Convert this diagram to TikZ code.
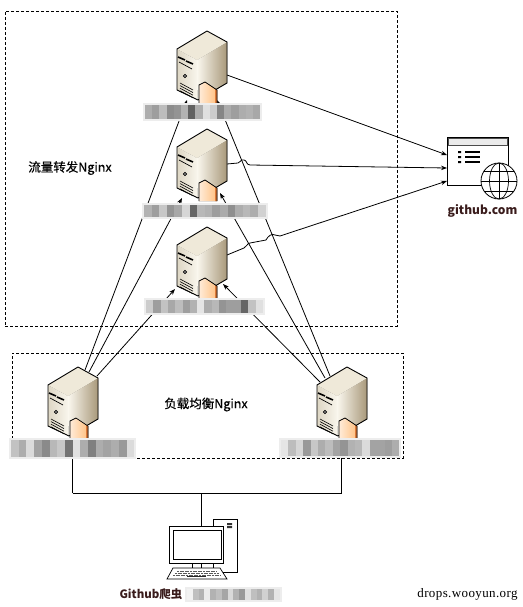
\documentclass[tikz,border=0pt]{standalone}
\usepackage{fontspec}
\setmainfont{Noto Sans CJK SC}
\newfontfamily\markfont[LetterSpace=3]{Liberation Serif}
\newfontfamily\capfont[FakeBold=0.4]{Noto Sans CJK SC}
\usetikzlibrary{arrows.meta}

\definecolor{doorred}{HTML}{DE7A38}
\definecolor{darktext}{HTML}{3A1C1C}
\definecolor{creamlight}{HTML}{FAF7EE}
\definecolor{creamtop}{HTML}{EFE9D9}
\definecolor{creamdark}{HTML}{A8987A}
\definecolor{creamlow}{HTML}{DDD6C4}

\tikzset{
	link/.style={-{Stealth[length=6pt,width=4.5pt]},line width=0.8pt},
	wire/.style={-,line width=0.9pt},
	zone/.style={draw=black,densely dashed,line width=0.8pt},
	caption/.style={font=\capfont\fontsize{12.5}{14}\selectfont,inner sep=0pt},
	pics/serverbox/.style={code={
		\fill[left color=creamlow,right color=creamlight] (-30,18) -- (-10,29) -- (-9,69) -- (-30,59) -- cycle;
		\fill[left color=creamlight,right color=creamdark] (-10,29) -- (20,11) -- (20,52) -- (-9,69) -- cycle;
		\fill[creamtop] (0,0) -- (20,11) -- (-10,29) -- (-30,18) -- cycle;
		\draw[line width=0.9pt,line join=round] (0,0) -- (20,11) -- (20,52) -- (-9,69) -- (-30,59) -- (-30,18) -- cycle;
		\draw[line width=1.6pt] (-29,26) -- (-22,29) (-21,30) -- (-14,33);
		\draw[line width=0.7pt] (-28,31) -- (-15,38);
		\draw[line width=0.6pt,fill=black!50] (-22,45) circle (1.8);
		\foreach \k in {0,...,3}
			\draw[line width=0.6pt] (-27,52+2.6*\k) -- (-14,59+2.6*\k);
		\fill[left color=orange!15!white,right color=orange!50!white] (-8,54) -- (-2,51) -- (10,59) -- (10,72) -- (-8,72) -- cycle;
		\fill[doorred] (8,58) -- (10,59) -- (10,72) -- (8,72) -- cycle;
		\draw[line width=0.7pt] (-8,72) -- (-8,54) -- (-2,51) -- (10,59) -- (10,72);
	}},
}

% one blurred label: name, x, y, height, first cell width, greys
\newcommand{\blurlabel}[6]{
	\fill[black!7] (#2-2,#3-2) rectangle ++(#5*16+4,#4+4);
	\foreach \g [count=\i from 0] in {#6}
		\fill[black!\g] (#2+#5*\i,#3) rectangle +(#5,#4);
	\coordinate (#1) at (#2,#3);
}

\begin{document}
\begin{tikzpicture}[x=1pt,y=-1pt]
	\useasboundingbox (0,0) rectangle (522,607);

	\node[zone,minimum width=392pt,minimum height=315pt] (flowzone) at (201,168.5) {};
	\node[zone,minimum width=391pt,minimum height=105pt] (lbzone) at (207.5,405.5) {};

	\coordinate (siteA) at (447,155);
	\coordinate (siteB) at (447,168);
	\coordinate (siteC) at (447,181);

	\coordinate (eastA) at (227,75);
	\coordinate (eastB) at (227,164);
	\coordinate (eastC) at (227,255);

	\coordinate (footAl) at (187,100);
	\coordinate (footAr) at (217,100);
	\coordinate (footBl) at (182,198);
	\coordinate (footBr) at (220,193);
	\coordinate (footCl) at (175,289);
	\coordinate (footCr) at (223,284);

	\coordinate (topLa) at (85,370);
	\coordinate (topLb) at (89,372);
	\coordinate (topLc) at (97,376);
	\coordinate (topRa) at (330,376);
	\coordinate (topRb) at (325,378);
	\coordinate (topRc) at (320,382);

	\coordinate (botL) at (72.5,437);
	\coordinate (botR) at (341.5,437);
	\coordinate (busL) at (72.5,493);
	\coordinate (busR) at (341.5,493);
	\coordinate (busM) at (201,493);

	% links up to the forward hosts
	\path[link] (topLa) edge (footAl);
	\path[link] (topLb) edge (footBl);
	\path[link] (topLc) edge (footCl);
	\path[link] (topRa) edge (footAr);
	\path[link] (topRb) edge (footBr);
	\path[link] (topRc) edge (footCr);

	% links out to the site
	\path[link] (eastA) edge (siteA);
	\draw[link] (eastB) -- (238,163) .. controls (241,163) and (240,159) .. (244,160)
		.. controls (247,160) and (246,165) .. (250,165) -- (siteB);
	\draw[link] (eastC) -- (244,248) .. controls (247,247) and (247,243) .. (250,243)
		-- (266,240) .. controls (268,236) and (272,233) .. (275,235) -- (280,236) -- (siteC);

	\path[wire,-{Stealth[length=5pt,width=4pt]}] (busL) edge (botL);
	\path[wire,-{Stealth[length=5pt,width=4pt]}] (busR) edge (botR);
	\draw[wire] (busL) -- (busR);

	\pic (hostA) at (207,31) {serverbox};
	\pic (hostB) at (207,129) {serverbox};
	\pic (hostC) at (207,227) {serverbox};
	\pic (lbL) at (78,367) {serverbox};
	\pic (lbR) at (347,367) {serverbox};

	\blurlabel{nameA}{145}{105}{14}{7.2}{32,38,26,45,42,30,62,32,12,20,48,33,38,32,30,34}
	\blurlabel{nameB}{144}{205}{12}{7.6}{30,38,22,42,34,16,60,28,30,38,33,44,32,28,32,18}
	\blurlabel{nameC}{146}{300}{13}{7.3}{20,38,24,34,26,38,30,10,32,28,42,38,38,60,24,12}
	\blurlabel{nameL}{11}{440}{17}{7.7}{24,32,14,36,46,28,22,55,12,32,50,32,36,32,40,14}
	\blurlabel{nameR}{281}{440}{16}{7.4}{10,26,16,40,22,32,26,36,42,30,28,14,36,36,38,32}

	% client machine
	\node[draw=black,line width=0.8pt,minimum width=24pt,minimum height=53pt,inner sep=0pt] (tower) at (225,545.5) {};
	\fill[black!80] (227,523) rectangle (232,525) (227,526) rectangle (232,528);
	\node[draw=black,fill=white,line width=0.8pt,minimum width=54pt,minimum height=37pt,inner sep=0pt] (screen) at (196,544.5) {};
	\node[draw=black,line width=0.8pt,minimum width=48pt,minimum height=29pt,inner sep=0pt] (glass) at (197,544.5) {};
	\draw[line width=0.7pt,fill=white] (192,563) rectangle (213,568) (201,563) -- (201,568);
	\draw[line width=0.7pt,fill=white] (173,568) -- (220,568) -- (227,579) -- (167,579) -- cycle;
	\foreach \r in {571,573,575}
		\draw[black!65,line width=1pt,dash pattern=on 2pt off 0.6pt] (177+571-\r,\r) -- (217+\r-571,\r);
	\draw[black!85,line width=1.4pt] (187,576.5) -- (206,576.5);
	\draw[wire] (busM) -- (screen.north -| busM);

	% site window and globe
	\node[draw=black,line width=0.9pt,minimum width=61pt,minimum height=48pt,inner sep=0pt] (window) at (477.5,161) {};
	\draw[black!70,fill=black!8,line width=0.9pt] (448,138) rectangle (507,145);
	\draw[black,line width=1.2pt] (465,152) -- (480,152) (465,157) -- (480,157) (465,162) -- (480,162);
	\fill[black] (458,151) rectangle (461,153) (458,156) rectangle (461,158) (458,161) rectangle (461,163);
	\node[circle,draw=black,fill=white,line width=0.8pt,minimum size=36pt,inner sep=0pt] (globe) at (499,181) {};
	\draw[line width=0.7pt] (globe.center) ellipse (9.5 and 18);
	\draw[line width=0.7pt] (globe.north) -- (globe.south);
	\draw[line width=0.7pt] (globe.west) -- (globe.east);
	\draw[line width=0.7pt] (484,171) -- (514,171) (484,191) -- (514,191);

	\node[caption] (flowtext) at (70,168) {流量转发Nginx};
	\node[caption] (lbtext) at (206,404.5) {负载均衡Nginx};
	\node[inner sep=0pt,text=darktext,font=\fontsize{12}{14}\selectfont\bfseries] (sitetext) at (482.5,210.5) {github.com};
	\node[inner sep=0pt,text=darktext,font=\fontsize{11.5}{14}\selectfont\bfseries] (clienttext) at (151,594) {Github爬虫};
	\blurlabel{nameP}{187}{589}{11}{5.8}{5,25,30,8,30,25,35,15,30,40,12,25,30,18,30,10}
	\node[inner sep=0pt,font=\markfont\fontsize{13}{15}\selectfont] (marktext) at (467.5,594) {drops.wooyun.org};
\end{tikzpicture}
\end{document}
